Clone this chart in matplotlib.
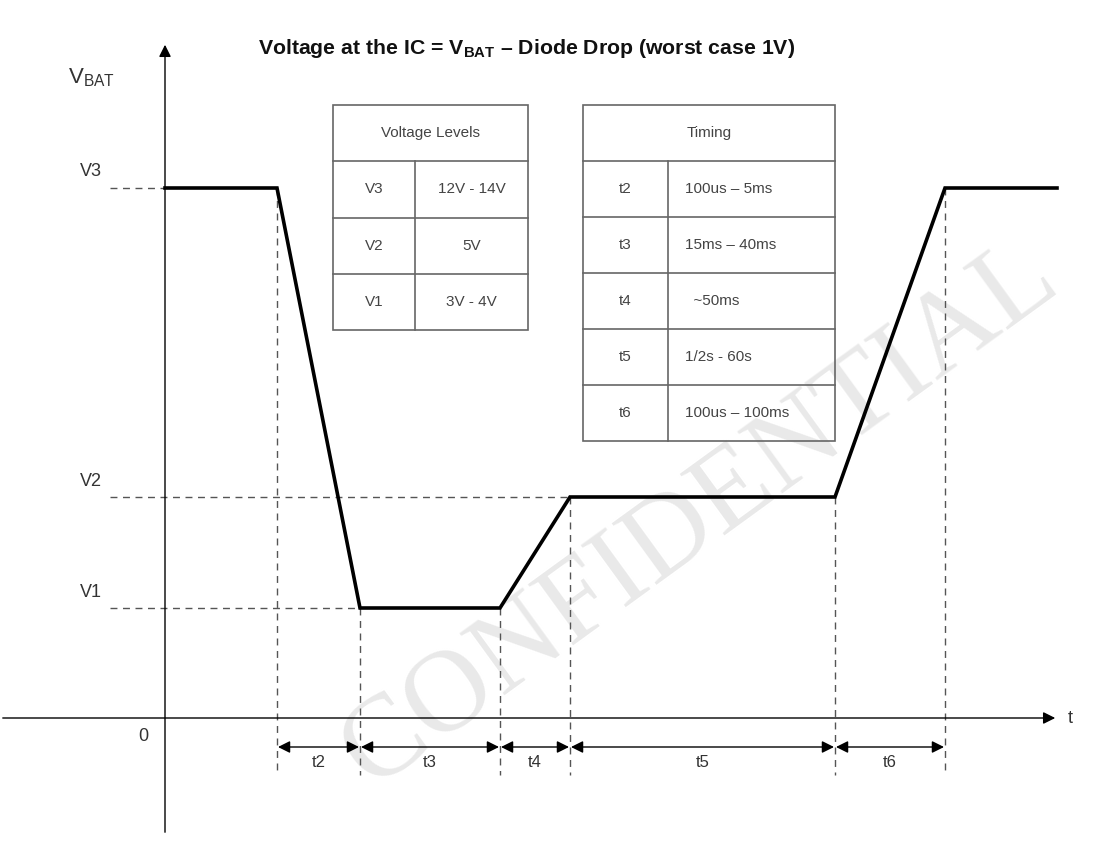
import matplotlib.pyplot as plt
from matplotlib.patches import Rectangle

plt.rcParams['font.family'] = ['Liberation Sans', 'DejaVu Sans']
plt.rcParams['mathtext.fontset'] = 'custom'
plt.rcParams['mathtext.rm'] = 'Liberation Sans'
plt.rcParams['mathtext.bf'] = 'Liberation Sans:bold'

# waveform (schematic units: pixel positions of the drawing)
t_pts = [165, 277, 360, 500, 570, 835, 945, 1057]
v_pts = [188, 188, 608, 608, 497, 497, 188, 188]

# voltage levels
level_names = ['V3', 'V2', 'V1']
level_y = [188, 497, 608]
level_end = [165, 570, 360]
zero_y = 718

# timing marks
seg_names = ['t2', 't3', 't4', 't5', 't6']
seg_edges = [277, 360, 500, 570, 835, 945]
edge_top = [188, 608, 608, 497, 497, 188]

volt_table = [['V3', '12V - 14V'], ['V2', '5V'], ['V1', '3V - 4V']]
time_table = [['t2', '100us \u2013 5ms'], ['t3', '15ms \u2013 40ms'], ['t4', '  ~50ms'],
              ['t5', '1/2s - 60s'], ['t6', '100us \u2013 100ms']]

fig = plt.figure(figsize=(10.99, 8.55), dpi=100)
ax = fig.add_axes([0, 0, 1, 1])
ax.set_xlim(0, 1099)
ax.set_ylim(855, 0)
ax.axis('off')

# watermark
ax.text(700, 515, 'CONFIDENTIAL', family='Liberation Serif', fontsize=84, rotation=36,
        ha='center', va='center', color='#e9e9e9', zorder=0)

# axes
ax.annotate('', xy=(165, 42), xytext=(165, 835),
            arrowprops=dict(arrowstyle='-|>', color='black', lw=1.0, mutation_scale=18))
ax.annotate('', xy=(1058, zero_y), xytext=(0, zero_y),
            arrowprops=dict(arrowstyle='-|>', color='black', lw=1.0, mutation_scale=18))
ax.text(1068, zero_y, 't', fontsize=13, ha='left', va='center', color='#333333')
ax.text(143, 736, '0', fontsize=13, ha='center', va='center', color='#333333')
ax.text(68, 78, r'V$_{\mathrm{BAT}}$', fontsize=16, ha='left', va='center', color='#333333')

# level guides
dash = dict(color='#555555', lw=1.0, ls=(0, (5, 4)), zorder=2)
for name, y, xe in zip(level_names, level_y, level_end):
    ax.plot([110, xe], [y, y], **dash)
    ax.text(80, y - 16, name, fontsize=13, ha='left', va='center', color='#333333')

for x, yt in zip(seg_edges, edge_top):
    ax.plot([x, x], [yt, 775], **dash)

# waveform
ax.plot(t_pts, v_pts, color='black', lw=2.6, solid_joinstyle='miter', zorder=3)

# timing arrows
for i, name in enumerate(seg_names):
    x1, x2 = seg_edges[i], seg_edges[i + 1]
    ax.annotate('', xy=(x2 - 1, 747), xytext=(x1 + 1, 747),
                arrowprops=dict(arrowstyle='<|-|>', color='black', lw=1.0,
                                mutation_scale=18, shrinkA=0, shrinkB=0))
    ax.text((x1 + x2) / 2, 762, name, fontsize=12, ha='center', va='center', color='#333333')

# title
ax.text(527, 48, 'Voltage at the IC = V$_{\\mathbf{BAT}}$ \u2013 Diode Drop (worst case 1V)',
        fontsize=15.3, fontweight='bold', ha='center', va='center', color='#111111')


def draw_table(x0, x1, xdiv, y0, rh, header, rows, left_val=False):
    nrow = len(rows) + 1
    edge = '#666666'
    ax.add_patch(Rectangle((x0, y0), x1 - x0, rh * nrow, fill=False,
                           edgecolor=edge, lw=1.2, zorder=4))
    for r in range(1, nrow):
        ax.plot([x0, x1], [y0 + r * rh] * 2, color=edge, lw=1.2, zorder=4)
    ax.plot([xdiv, xdiv], [y0 + rh, y0 + rh * nrow], color=edge, lw=1.2, zorder=4)
    ax.text((x0 + x1) / 2, y0 + rh / 2, header, fontsize=11, ha='center', va='center',
            color='#444444')
    for r, (a, b) in enumerate(rows):
        yc = y0 + rh * (r + 1.5)
        ax.text((x0 + xdiv) / 2, yc, a, fontsize=11, ha='center', va='center', color='#444444')
        if left_val:
            ax.text(xdiv + 17, yc, b, fontsize=11, ha='left', va='center', color='#444444')
        else:
            ax.text((xdiv + x1) / 2, yc, b, fontsize=11, ha='center', va='center', color='#444444')


draw_table(333, 528, 415, 105, 56.3, 'Voltage Levels', volt_table)
draw_table(583, 835, 668, 105, 56.0, 'Timing', time_table, left_val=True)

fig.savefig('out.png', dpi=100)
